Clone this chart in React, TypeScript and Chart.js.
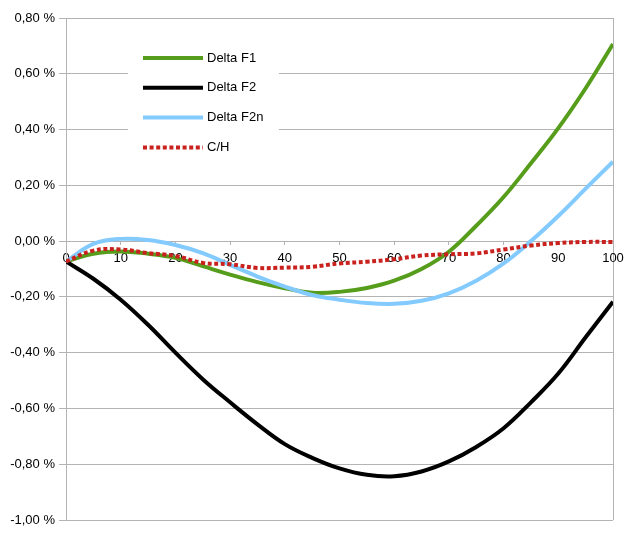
import React, { useRef, useEffect } from 'react';
import { Chart, registerables } from 'chart.js';
import type { ChartConfiguration, Plugin } from 'chart.js';

Chart.register(...registerables);

// x positions (0..100) and the four series in percent
const xValues = [0, 5, 10, 15, 20, 25, 30, 35, 40, 45, 50, 55, 60, 65, 70, 75, 80, 85, 90, 95, 100];
const deltaF1 = [-0.073, -0.045, -0.037, -0.045, -0.06, -0.09, -0.12, -0.147, -0.169, -0.185, -0.182, -0.168, -0.142, -0.1, -0.038, 0.055, 0.158, 0.279, 0.405, 0.548, 0.707];
const deltaF2 = [-0.073, -0.135, -0.21, -0.3, -0.4, -0.495, -0.578, -0.657, -0.728, -0.777, -0.815, -0.838, -0.843, -0.826, -0.79, -0.738, -0.671, -0.578, -0.475, -0.345, -0.217];
const deltaF2n = [-0.073, -0.01, 0.008, 0.004, -0.014, -0.043, -0.085, -0.127, -0.163, -0.193, -0.21, -0.222, -0.225, -0.214, -0.187, -0.142, -0.08, 0.0, 0.09, 0.188, 0.285];
const ch = [-0.073, -0.034, -0.03, -0.043, -0.053, -0.078, -0.083, -0.096, -0.095, -0.092, -0.08, -0.074, -0.065, -0.052, -0.047, -0.044, -0.03, -0.016, -0.007, -0.003, -0.003];

const seriesNames = ['Delta F1', 'Delta F2', 'Delta F2n', 'C/H'];
const seriesColors = ['#579d1c', '#000000', '#83caff', '#c9211e'];

const GRID = '#b3b3b3';
const FONT = { family: '"Liberation Sans", Arial, sans-serif', size: 13 };

const pts = (ys: number[]) => xValues.map((x, i) => ({ x, y: ys[i] }));

const fmtPct = (v: number) => {
  const n = Math.abs(v) < 1e-9 ? 0 : v;
  return n.toFixed(2).replace('.', ',') + ' %';
};

// legend drawn inside the plot, on a white box that hides the grid lines
const innerLegend: Plugin = {
  id: 'innerLegend',
  beforeDatasetsDraw(chart) {
    const c = chart.ctx;
    c.save();
    c.fillStyle = '#ffffff';
    c.fillRect(128, 40, 151, 122);
    chart.data.datasets.forEach((ds: any, i) => {
      const y = 58 + i * 29.8;
      c.beginPath();
      c.strokeStyle = ds.borderColor;
      c.lineWidth = 4;
      c.setLineDash(ds.borderDash || []);
      c.moveTo(143, y);
      c.lineTo(203, y);
      c.stroke();
      c.setLineDash([]);
      c.fillStyle = '#000';
      c.font = `${FONT.size}px ${FONT.family}`;
      c.textBaseline = 'middle';
      c.textAlign = 'left';
      c.fillText(ds.label, 207, y);
    });
    c.restore();
  },
};

const config: ChartConfiguration<'line'> = {
  type: 'line',
  data: {
    datasets: [
      { label: seriesNames[0], data: pts(deltaF1), borderColor: seriesColors[0], borderWidth: 4, order: 3 },
      { label: seriesNames[1], data: pts(deltaF2), borderColor: seriesColors[1], borderWidth: 4, order: 2 },
      { label: seriesNames[2], data: pts(deltaF2n), borderColor: seriesColors[2], borderWidth: 4, order: 1 },
      { label: seriesNames[3], data: pts(ch), borderColor: seriesColors[3], borderWidth: 4, borderDash: [4, 2.6], order: 0 },
    ],
  },
  options: {
    animation: false,
    responsive: true,
    maintainAspectRatio: false,
    layout: { padding: { top: 18, right: 23, bottom: 18, left: 0 } },
    elements: {
      point: { radius: 0 },
      line: { tension: 0.4, fill: false, borderCapStyle: 'butt' },
    },
    plugins: {
      legend: { display: false },
      tooltip: { enabled: false },
    },
    scales: {
      x: {
        type: 'linear',
        min: 0,
        max: 100,
        position: { y: 0 },
        border: { display: false },
        grid: {
          color: (ctx: any) => (ctx.tick && (ctx.tick.value === 0 || ctx.tick.value === 100) ? GRID : 'transparent'),
          tickColor: GRID,
          tickLength: 4,
        },
        ticks: { stepSize: 10, color: '#000', font: FONT, padding: 6, maxRotation: 0 },
      },
      y: {
        min: -1,
        max: 0.8,
        afterFit: (s: any) => { s.width = 66; },
        border: { color: GRID },
        grid: { color: GRID, tickColor: GRID, tickLength: 7 },
        ticks: { stepSize: 0.2, color: '#000', font: FONT, padding: 4, callback: (v: any) => fmtPct(Number(v)) },
      },
    },
  },
  plugins: [innerLegend],
};

export default function App() {
  const ref = useRef<HTMLCanvasElement>(null);
  const chartRef = useRef<Chart | null>(null);

  useEffect(() => {
    document.body.style.margin = '0';
    if (!ref.current) return;
    chartRef.current?.destroy();
    chartRef.current = new Chart(ref.current, config);
    return () => { chartRef.current?.destroy(); chartRef.current = null; };
  }, []);

  return (
    <div style={{ width: 636, height: 538, position: 'relative', background: '#fff' }}>
      <canvas ref={ref} />
    </div>
  );
}
